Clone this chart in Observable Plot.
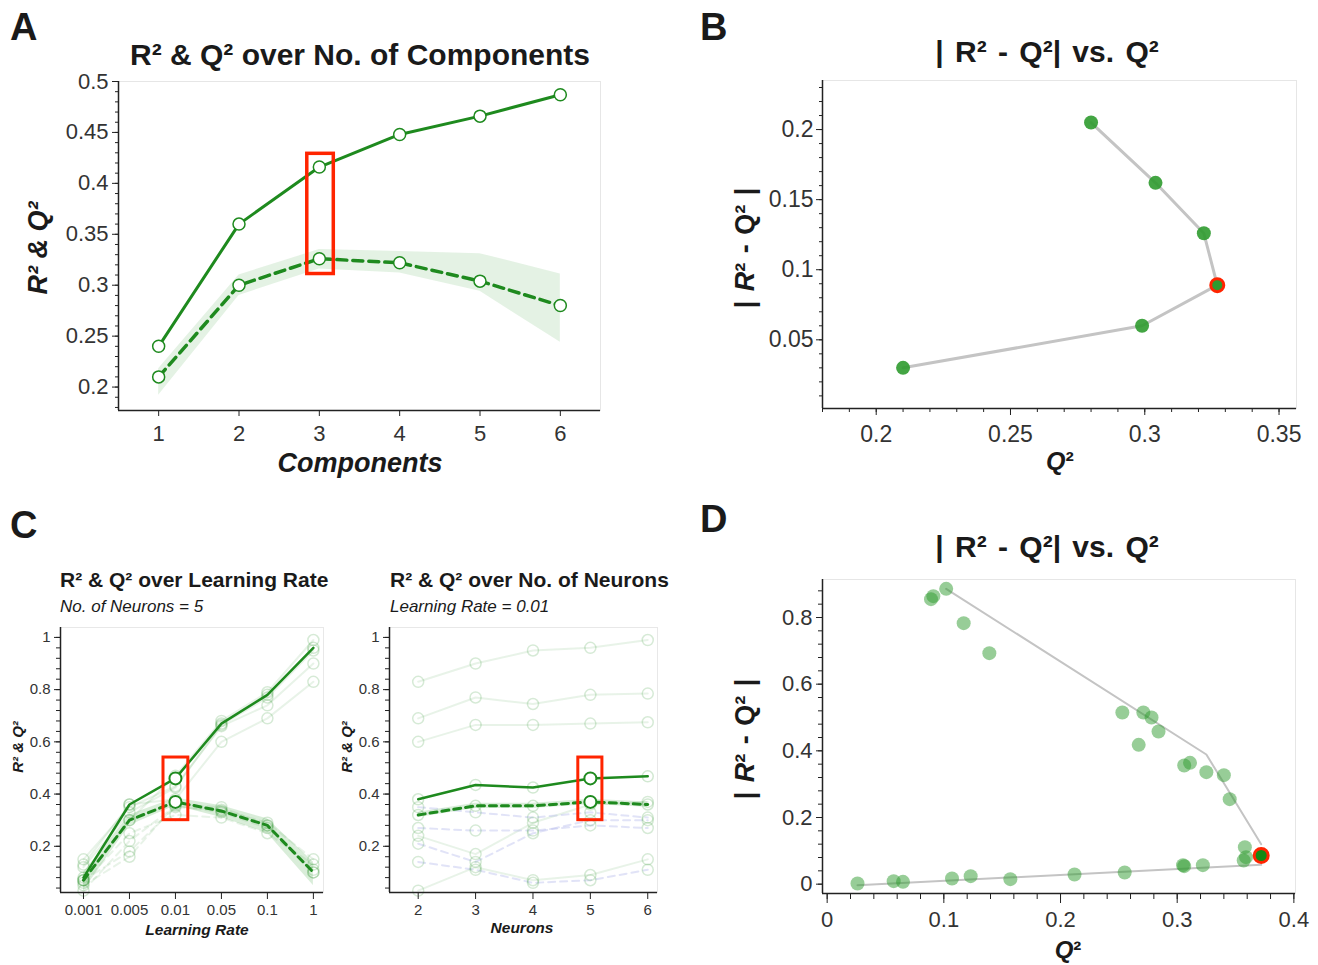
<!DOCTYPE html>
<html>
<head>
<meta charset="utf-8">
<script src="https://cdn.jsdelivr.net/npm/d3@7"></script>
<script src="https://cdn.jsdelivr.net/npm/@observablehq/plot@0.6"></script>
<style>
html,body{margin:0;padding:0;background:#fff;}
#fig{position:relative;width:1318px;height:965px;overflow:hidden;font-family:"Liberation Sans",Arial,Helvetica,sans-serif;color:#222;}
.t{position:absolute;white-space:nowrap;line-height:1;}
</style>
</head>
<body>
<div id="fig"></div>
<script>
// ---------- Panel A: R² & Q² over No. of Components ----------
const components = [1, 2, 3, 4, 5, 6];
const compR2   = [0.240, 0.360, 0.416, 0.448, 0.466, 0.487];
const compQ2   = [0.210, 0.300, 0.326, 0.322, 0.304, 0.280];
const compQ2Lo = [0.192, 0.290, 0.316, 0.312, 0.294, 0.244];
const compQ2Hi = [0.218, 0.310, 0.335, 0.333, 0.331, 0.311];
const compBox  = [{x1: 2.85, x2: 3.18, y1: 0.311, y2: 0.429}];
const compYTicks = [0.2, 0.25, 0.3, 0.35, 0.4, 0.45, 0.5];

// ---------- Panel B: |R² - Q²| vs Q² (components) ----------
const bQ2   = [0.280, 0.304, 0.322, 0.327, 0.299, 0.210];
const bDiff = [0.205, 0.162, 0.126, 0.089, 0.060, 0.030];
const bHighlight = 3;
const bXTicks = [0.2, 0.25, 0.3, 0.35];
const bYTicks = [0.05, 0.1, 0.15, 0.2];

// ---------- Panel C left: over Learning Rate ----------
const lrLabels = ["0.001", "0.005", "0.01", "0.05", "0.1", "1"];
const lrR2   = [0.08, 0.36, 0.46, 0.67, 0.78, 0.96];
const lrQ2   = [0.07, 0.30, 0.37, 0.335, 0.28, 0.10];
const lrQ2Lo = [0.03, 0.28, 0.355, 0.31, 0.25, 0.05];
const lrQ2Hi = [0.10, 0.32, 0.385, 0.355, 0.305, 0.14];
const lrHighlight = 2;
const lrR2Others = [
  [0.13, 0.36, 0.38, 0.60, 0.69, 0.83],
  [0.15, 0.35, 0.43, 0.66, 0.74, 0.90],
  [0.12, 0.33, 0.425, 0.665, 0.77, 0.95],
  [0.07, 0.30, 0.47, 0.68, 0.79, 0.99]
];
const lrQ2Others = [
  [0.06, 0.25, 0.32, 0.31, 0.25, 0.13],
  [0.03, 0.22, 0.355, 0.33, 0.27, 0.11],
  [0.07, 0.18, 0.35, 0.34, 0.29, 0.15],
  [0.05, 0.16, 0.36, 0.35, 0.28, 0.10]
];
const lrBox = [{x1: 1.74, x2: 2.28, y1: 0.30, y2: 0.54}];

// ---------- Panel C right: over No. of Neurons ----------
const neurons = [2, 3, 4, 5, 6];
const nR2   = [0.38, 0.435, 0.425, 0.46, 0.468];
const nQ2   = [0.32, 0.355, 0.355, 0.37, 0.36];
const nQ2Lo = [0.31, 0.345, 0.345, 0.36, 0.35];
const nQ2Hi = [0.33, 0.365, 0.365, 0.38, 0.37];
const nHighlight = 3;
const nR2Others = [
  [0.83, 0.90, 0.95, 0.96, 0.99],
  [0.69, 0.77, 0.745, 0.78, 0.785],
  [0.60, 0.665, 0.665, 0.67, 0.675],
  [0.24, 0.17, 0.29, 0.36, 0.37],
  [0.03, 0.12, 0.07, 0.09, 0.15]
];
const nQ2Others = [
  [0.35, 0.33, 0.31, 0.33, 0.31],
  [0.27, 0.26, 0.26, 0.28, 0.27],
  [0.21, 0.14, 0.25, 0.30, 0.30],
  [0.14, 0.11, 0.06, 0.07, 0.11]
];
const nBox = [{x1: 4.79, x2: 5.21, y1: 0.30, y2: 0.54}];
const cYTicks = [0.2, 0.4, 0.6, 0.8, 1];

// ---------- Panel D: |R² - Q²| vs Q² (neural nets) ----------
const dQ2 = [0.026, 0.057, 0.065, 0.107, 0.123, 0.157, 0.212, 0.255, 0.305, 0.306, 0.322,
             0.357, 0.359, 0.358, 0.345, 0.340, 0.325, 0.311, 0.306, 0.284, 0.278, 0.271,
             0.253, 0.267, 0.139, 0.117, 0.102, 0.091, 0.089];
const dDiff = [0.002, 0.009, 0.007, 0.017, 0.024, 0.015, 0.029, 0.035, 0.057, 0.054, 0.057,
               0.071, 0.081, 0.111, 0.255, 0.327, 0.336, 0.364, 0.356, 0.458, 0.500, 0.515,
               0.515, 0.418, 0.693, 0.783, 0.886, 0.864, 0.855];
const dHiQ2 = [0.372];
const dHiDiff = [0.086];
const dUpperQ2 = [0.102, 0.325, 0.372];
const dUpperDiff = [0.886, 0.389, 0.120];
const dLowerQ2 = [0.026, 0.372];
const dLowerDiff = [-0.003, 0.058];
const dXTicks = [0, 0.1, 0.2, 0.3, 0.4];
const dYTicks = [0, 0.2, 0.4, 0.6, 0.8];

// ---------- helpers ----------
const FONT = '"Liberation Sans", Arial, Helvetica, sans-serif';
const green = "#1e8a1e";
const dotGreen = "#2f9b2f";
const red = "#ff2400";
const fig = document.getElementById("fig");
const fmt = d => String(d);

function minor(lo, hi, step) {
  const a = [];
  for (let i = Math.ceil(lo / step - 1e-6); i * step <= hi + 1e-9; i++) a.push(+(i * step).toFixed(6));
  return a;
}
function place(svg, left, top) {
  svg.style.position = "absolute";
  svg.style.left = left + "px";
  svg.style.top = top + "px";
  fig.appendChild(svg);
}
function addText(html, o) {
  const d = document.createElement("div");
  d.className = "t";
  d.innerHTML = html;
  d.style.fontSize = o.size + "px";
  d.style.fontWeight = o.weight || "bold";
  d.style.fontStyle = o.style || "normal";
  d.style.color = o.color || "#1a1a1a";
  if (o.wordSpacing) d.style.wordSpacing = o.wordSpacing + "px";
  d.style.top = (o.baseline - 0.8465 * o.size) + "px";
  d.style.left = o.x + "px";
  if (o.anchor === "middle") d.style.transform = "translateX(-50%)";
  fig.appendChild(d);
}
function addVText(html, o) {
  const d = document.createElement("div");
  d.className = "t";
  d.innerHTML = html;
  d.style.fontSize = o.size + "px";
  d.style.fontWeight = o.weight || "bold";
  d.style.fontStyle = o.style || "normal";
  d.style.color = "#1a1a1a";
  if (o.wordSpacing) d.style.wordSpacing = o.wordSpacing + "px";
  d.style.left = o.cx + "px";
  d.style.top = o.cy + "px";
  d.style.transform = "translate(-50%,-50%) rotate(-90deg)";
  fig.appendChild(d);
}
const styleOf = size => ({fontFamily: FONT, fontSize: size + "px", color: "#333", background: "transparent", overflow: "visible"});

// ---------- Panel A ----------
const aRows = components.map((c, i) => ({c, r2: compR2[i], q2: compQ2[i], lo: compQ2Lo[i], hi: compQ2Hi[i]}));
place(Plot.plot({
  width: 620, height: 490, marginLeft: 118, marginRight: 20, marginTop: 81, marginBottom: 80,
  x: {domain: [0.5, 6.5]}, y: {domain: [0.177, 0.5]},
  style: styleOf(22),
  marks: [
    Plot.frame({stroke: "#e6e6e6"}),
    Plot.areaY(aRows, {x: "c", y1: "lo", y2: "hi", fill: dotGreen, fillOpacity: 0.13}),
    Plot.line(aRows, {x: "c", y: "r2", stroke: green, strokeWidth: 3}),
    Plot.line(aRows, {x: "c", y: "q2", stroke: green, strokeWidth: 3.5, strokeDasharray: "10,6"}),
    Plot.dot(aRows, {x: "c", y: "r2", r: 6, fill: "white", stroke: green, strokeWidth: 1.5}),
    Plot.dot(aRows, {x: "c", y: "q2", r: 6, fill: "white", stroke: green, strokeWidth: 1.5}),
    Plot.rect(compBox, {x1: "x1", x2: "x2", y1: "y1", y2: "y2", fill: "none", stroke: red, strokeWidth: 3.5}),
    Plot.axisY(compYTicks, {tickSize: 6, tickPadding: 4, tickFormat: fmt, label: null, stroke: "#222", fill: "#333"}),
    Plot.axisY(minor(0.18, 0.5, 0.01), {tickSize: 3, tickFormat: () => "", label: null, stroke: "#222"}),
    Plot.axisX(components, {tickSize: 6, tickPadding: 9, tickFormat: fmt, label: null, stroke: "#222", fill: "#333"}),
    Plot.ruleX([0.5], {stroke: "#222", strokeWidth: 1.5}),
    Plot.ruleY([0.177], {stroke: "#222", strokeWidth: 1.5})
  ]
}), 0, 0);

// ---------- Panel B ----------
const bRows = bQ2.map((q, i) => ({q, d: bDiff[i]}));
place(Plot.plot({
  width: 618, height: 490, marginLeft: 122, marginRight: 22, marginTop: 80, marginBottom: 82,
  x: {domain: [0.18, 0.3565]}, y: {domain: [0.001, 0.235]},
  style: styleOf(23),
  marks: [
    Plot.frame({stroke: "#e6e6e6"}),
    Plot.line(bRows, {x: "q", y: "d", stroke: "#c4c4c4", strokeWidth: 3}),
    Plot.dot(bRows, {x: "q", y: "d", r: 7, fill: dotGreen, fillOpacity: 0.9}),
    Plot.dot([bRows[bHighlight]], {x: "q", y: "d", r: 6.5, fill: dotGreen, stroke: red, strokeWidth: 3}),
    Plot.axisY(bYTicks, {tickSize: 6, tickPadding: 3, tickFormat: fmt, label: null, stroke: "#222", fill: "#333"}),
    Plot.axisY(minor(0.01, 0.235, 0.01), {tickSize: 3, tickFormat: () => "", label: null, stroke: "#222"}),
    Plot.axisX(bXTicks, {tickSize: 7, tickPadding: 10, tickFormat: fmt, label: null, stroke: "#222", fill: "#333"}),
    Plot.axisX(minor(0.18, 0.3565, 0.01), {tickSize: 4, tickFormat: () => "", label: null, stroke: "#222"}),
    Plot.ruleX([0.18], {stroke: "#222", strokeWidth: 1.5}),
    Plot.ruleY([0.001], {stroke: "#222", strokeWidth: 1.5})
  ]
}), 700, 0);

// ---------- Panel C helpers ----------
function othersRows(xs, arrs) {
  return arrs.flatMap((arr, k) => arr.map((v, i) => ({x: xs[i], y: v, s: k})));
}
function cPanel(o) {
  const rows = o.xs.map((x, i) => ({x, r2: o.r2[i], q2: o.q2[i], lo: o.lo[i], hi: o.hi[i]}));
  const rOthers = othersRows(o.xs, o.r2Others);
  const qOthers = othersRows(o.xs, o.q2Others);
  return Plot.plot({
    width: 340, height: 400, marginLeft: o.ml, marginRight: o.mr, marginTop: 67, marginBottom: 68,
    x: {domain: o.xDomain}, y: {domain: [0.023, 1.038]},
    style: styleOf(15),
    marks: [
      Plot.frame({stroke: "#e8e8e8"}),
      Plot.line(rOthers, {x: "x", y: "y", z: "s", stroke: green, strokeOpacity: 0.1, strokeWidth: 2}),
      Plot.line(qOthers, {x: "x", y: "y", z: "s", stroke: o.qOtherColor, strokeOpacity: o.qOtherOpacity, strokeWidth: 2, strokeDasharray: "7,5"}),
      Plot.dot(rOthers, {x: "x", y: "y", r: 5.5, fill: "none", stroke: green, strokeOpacity: 0.18, strokeWidth: 1.5}),
      Plot.dot(qOthers, {x: "x", y: "y", r: 5.5, fill: "none", stroke: green, strokeOpacity: 0.18, strokeWidth: 1.5}),
      Plot.areaY(rows, {x: "x", y1: "lo", y2: "hi", fill: dotGreen, fillOpacity: 0.18}),
      Plot.dot(rows, {x: "x", y: "r2", r: 5.5, fill: "none", stroke: green, strokeOpacity: 0.2, strokeWidth: 1.5}),
      Plot.dot(rows, {x: "x", y: "q2", r: 5.5, fill: "none", stroke: green, strokeOpacity: 0.2, strokeWidth: 1.5}),
      Plot.line(rows, {x: "x", y: "r2", stroke: green, strokeWidth: 2.5}),
      Plot.line(rows, {x: "x", y: "q2", stroke: green, strokeWidth: 3, strokeDasharray: "7,5"}),
      Plot.dot([rows[o.hl]], {x: "x", y: "r2", r: 6, fill: "white", stroke: green, strokeWidth: 2}),
      Plot.dot([rows[o.hl]], {x: "x", y: "q2", r: 6, fill: "white", stroke: green, strokeWidth: 2}),
      Plot.rect(o.box, {x1: "x1", x2: "x2", y1: "y1", y2: "y2", fill: "none", stroke: red, strokeWidth: 3}),
      Plot.axisY(cYTicks, {tickSize: 6, tickPadding: 4, tickFormat: fmt, label: null, stroke: "#222", fill: "#333"}),
      Plot.axisY(minor(0.04, 1.038, 0.04), {tickSize: 4, tickFormat: () => "", label: null, stroke: "#222"}),
      Plot.axisX(o.xs, {tickSize: 7, tickPadding: 5, tickFormat: o.tickFormat, label: null, stroke: "#222", fill: "#333"}),
      Plot.ruleX([o.xDomain[0]], {stroke: "#222", strokeWidth: 1.5}),
      Plot.ruleY([0.023], {stroke: "#222", strokeWidth: 1.5})
    ]
  });
}
const lrIdx = lrLabels.map((_, i) => i);
place(cPanel({
  xs: lrIdx, r2: lrR2, q2: lrQ2, lo: lrQ2Lo, hi: lrQ2Hi, hl: lrHighlight,
  r2Others: lrR2Others, q2Others: lrQ2Others, box: lrBox,
  qOtherColor: green, qOtherOpacity: 0.1,
  xDomain: [-0.5, 5.22], ml: 60, mr: 17, tickFormat: i => lrLabels[i]
}), 0, 560);
place(cPanel({
  xs: neurons, r2: nR2, q2: nQ2, lo: nQ2Lo, hi: nQ2Hi, hl: nHighlight,
  r2Others: nR2Others, q2Others: nQ2Others, box: nBox,
  qOtherColor: "#aab0e8", qOtherOpacity: 0.35,
  xDomain: [1.5, 6.17], ml: 49, mr: 23, tickFormat: fmt
}), 340, 560);

// ---------- Panel D ----------
const dRows = dQ2.map((q, i) => ({q, d: dDiff[i]}));
const dUpper = dUpperQ2.map((q, i) => ({q, d: dUpperDiff[i]}));
const dLower = dLowerQ2.map((q, i) => ({q, d: dLowerDiff[i]}));
const dHi = dHiQ2.map((q, i) => ({q, d: dHiDiff[i]}));
place(Plot.plot({
  width: 618, height: 475, marginLeft: 122, marginRight: 23, marginTop: 89, marginBottom: 72,
  x: {domain: [-0.004, 0.4014]}, y: {domain: [-0.028, 0.914]},
  style: styleOf(22),
  marks: [
    Plot.frame({stroke: "#e6e6e6"}),
    Plot.line(dUpper, {x: "q", y: "d", stroke: "#c4c4c4", strokeWidth: 2}),
    Plot.line(dLower, {x: "q", y: "d", stroke: "#c4c4c4", strokeWidth: 2}),
    Plot.dot(dRows, {x: "q", y: "d", r: 7, fill: dotGreen, fillOpacity: 0.5}),
    Plot.dot(dHi, {x: "q", y: "d", r: 7, fill: "#138a13", stroke: red, strokeWidth: 3}),
    Plot.axisY(dYTicks, {tickSize: 6, tickPadding: 4, tickFormat: fmt, label: null, stroke: "#222", fill: "#333"}),
    Plot.axisY(minor(-0.028, 0.914, 0.04), {tickSize: 4, tickFormat: () => "", label: null, stroke: "#222"}),
    Plot.axisX(dXTicks, {tickSize: 10, tickPadding: 8, tickFormat: fmt, label: null, stroke: "#222", fill: "#333"}),
    Plot.axisX(minor(0, 0.4014, 0.02), {tickSize: 6, tickFormat: () => "", label: null, stroke: "#222"}),
    Plot.ruleX([-0.004], {stroke: "#222", strokeWidth: 1.5}),
    Plot.ruleY([-0.028], {stroke: "#222", strokeWidth: 1.5})
  ]
}), 700, 490);

// ---------- Texts ----------
addText("A", {x: 10, baseline: 40, size: 38});
addText("B", {x: 700, baseline: 40, size: 38});
addText("C", {x: 10, baseline: 538, size: 38});
addText("D", {x: 700, baseline: 532, size: 38});

addText("R² &amp; Q² over No. of Components", {x: 360, baseline: 65, size: 30, anchor: "middle"});
addText("Components", {x: 360, baseline: 473, size: 27, style: "italic", anchor: "middle"});
addVText("R² &amp; Q²", {cx: 38, cy: 248, size: 27, style: "italic"});

addText("| R² - Q²| vs. Q²", {x: 1047, baseline: 62, size: 30, anchor: "middle", wordSpacing: 3});
addText("<i>Q</i>²", {x: 1060, baseline: 470, size: 25, anchor: "middle"});
addVText("| <i>R</i>² - Q² |", {cx: 745, cy: 248, size: 27, wordSpacing: 2});

addText("| R² - Q²| vs. Q²", {x: 1047, baseline: 557, size: 30, anchor: "middle", wordSpacing: 3});
addText("<i>Q</i>²", {x: 1068, baseline: 958, size: 24, anchor: "middle"});
addVText("| <i>R</i>² - Q² |", {cx: 745, cy: 739, size: 27, wordSpacing: 2});

addText("R² &amp; Q² over Learning Rate", {x: 60, baseline: 587, size: 21});
addText("No. of Neurons = 5", {x: 60, baseline: 612, size: 17, weight: "normal", style: "italic"});
addText("Learning Rate", {x: 197, baseline: 935, size: 15.5, style: "italic", anchor: "middle"});
addVText("R² &amp; Q²", {cx: 17, cy: 747, size: 15, style: "italic"});

addText("R² &amp; Q² over No. of Neurons", {x: 390, baseline: 587, size: 21});
addText("Learning Rate = 0.01", {x: 390, baseline: 612, size: 17, weight: "normal", style: "italic"});
addText("Neurons", {x: 522, baseline: 933, size: 15.5, style: "italic", anchor: "middle"});
addVText("R² &amp; Q²", {cx: 346, cy: 747, size: 15, style: "italic"});
</script>
</body>
</html>
